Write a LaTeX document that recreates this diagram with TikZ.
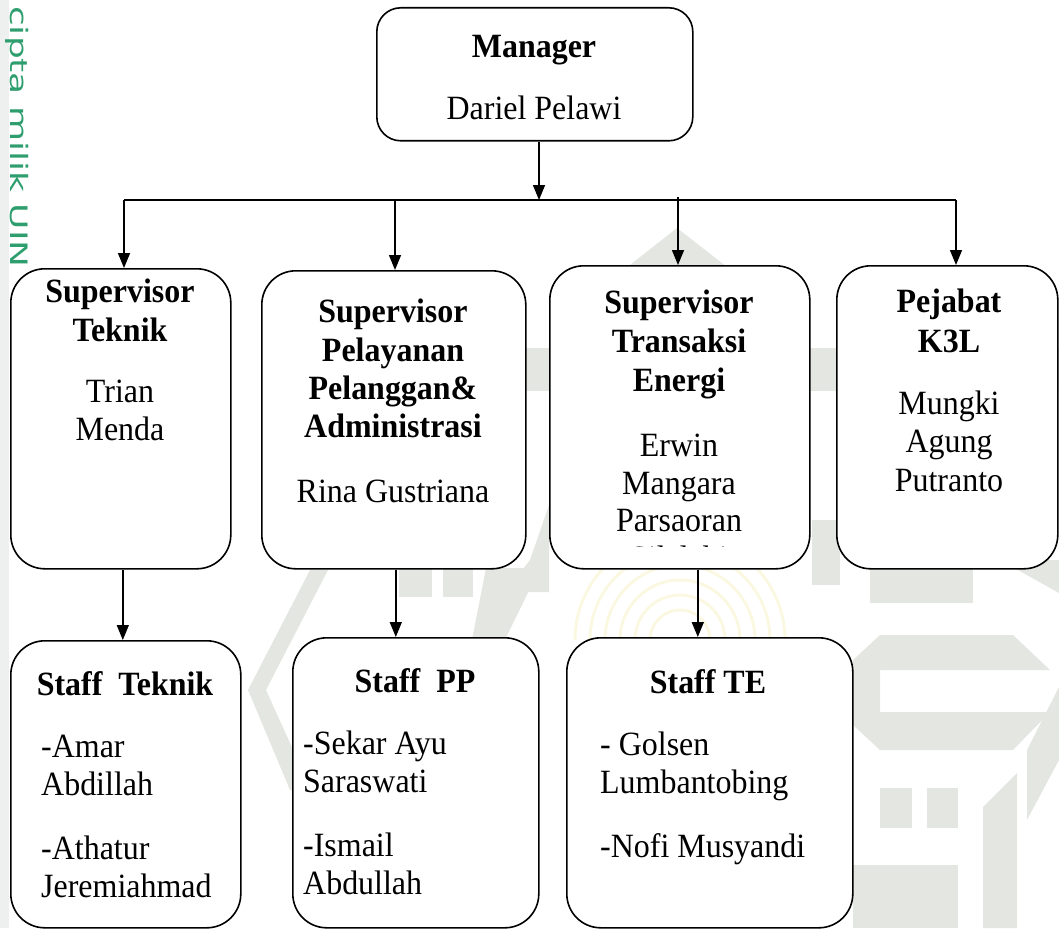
\documentclass[tikz,border=0pt]{standalone}
\usepackage{graphicx}
\usepackage{fontspec}
\setmainfont{Liberation Serif}[FakeStretch=0.94]
\newfontfamily\wmfont{DejaVu Sans}
\usetikzlibrary{arrows.meta}
\definecolor{wm}{HTML}{E4E6E1}
\definecolor{strip}{HTML}{EEF0F0}
\definecolor{wmgreen}{HTML}{2E9E6E}
\definecolor{wmyellow}{HTML}{FBF8E2}
\begin{document}
\begin{tikzpicture}[x=1pt,y=-1pt,
  every node/.style={inner sep=0pt},
  box/.style={draw, line width=1.6pt, rounded corners=34pt, fill=white, anchor=north west},
  arr/.style={line width=1.5pt, -{Triangle[length=15pt,width=12pt]}},
  bus/.style={line width=1.5pt},
  hd/.style={font=\bfseries\fontsize{34}{38}\selectfont, anchor=base},
  nm/.style={font=\fontsize{34}{38}\selectfont, anchor=base},
  nml/.style={font=\fontsize{34}{38}\selectfont, anchor=base west}]
\useasboundingbox (0,0) rectangle (1059,928);
% ---- watermark ----
\fill[strip] (0,0) rectangle (9,928);
\node[rotate=-90, anchor=base west, text=wmgreen, font=\wmfont\fontsize{24}{24}\selectfont] (wmtext) at (10,6) {\scalebox{1.5}[1]{cipta milik UIN}};
\fill[wm] (677,228) -- (560,320) -- (795,320) -- cycle;
\fill[wm] (515,348) rectangle (1059,391);
\fill[wm] (549,505) -- (549,592) -- (505,592) -- (530,560) -- cycle;
\fill[wm] (812,520) -- (840,520) -- (840,585) -- (812,585) -- cycle;
\fill[wm] (310,570) -- (328,570) -- (266,690) -- (300,765) -- (300,790) -- (290,790) -- (248,690) -- cycle;
\fill[wm] (399,568) rectangle (432,597);
\fill[wm] (443,568) rectangle (473,597);
\fill[wm] (486,568) -- (540,568) -- (500,650) -- (470,650) -- cycle;
\fill[wm] (870,568) rectangle (973,603);
\fill[wm] (1000,560) -- (1059,560) -- (1059,593) -- cycle;
\fill[wm] (880,635) -- (1013,635) -- (1050,670) -- (880,670) -- (880,712) -- (1050,712) -- (1013,750) -- (880,750) -- (853,725) -- (853,660) -- cycle;
\fill[wm] (880,788) rectangle (912,828);
\fill[wm] (927,788) rectangle (958,828);
\fill[wm] (983,807) -- (1017,773) -- (1017,928) -- (983,928) -- cycle;
\fill[wm] (1059,687) -- (1059,760) -- (1027,820) -- (1027,750) -- cycle;
\fill[wm] (853,865) -- (958,865) -- (958,928) -- (853,928) -- cycle;
\foreach \r in {30,45,...,110} {
  \draw[wmyellow, line width=3pt] (680-\r,640) arc[start angle=180, end angle=0, x radius=\r, y radius=-\r];
}
% ---- boxes ----
\node[box, rounded corners=24pt, minimum width=316pt, minimum height=133pt] (mgr) at (376,7) {};
\node[box, minimum width=220pt, minimum height=300pt] (st) at (10,268) {};
\node[box, minimum width=264pt, minimum height=298pt] (sp) at (261,270) {};
\node[box, minimum width=260pt, minimum height=303pt] (sx) at (549,265) {};
\node[box, minimum width=221pt, minimum height=303pt] (sk) at (836,265) {};
\node[box, minimum width=230pt, minimum height=287pt] (ft) at (10,640) {};
\node[box, minimum width=246pt, minimum height=290pt] (fp) at (292,637) {};
\node[box, minimum width=286pt, minimum height=290pt] (fe) at (566,637) {};
% ---- texts ----
\node[hd] (t1) at (534,58) {Manager};
\node[nm] (t2) at (534,120) {Dariel Pelawi};
\node[hd] (a1) at (120,302) {Supervisor};
\node[hd] (a2) at (120,341) {Teknik};
\node[nm] (a3) at (120,402) {Trian};
\node[nm] (a4) at (120,440) {Menda};
\node[hd] (b1t) at (393,322) {Supervisor};
\node[hd] (b2t) at (393,361) {Pelayanan};
\node[hd] (b3t) at (393,399) {Pelanggan\&};
\node[hd] (b4t) at (393,437) {Administrasi};
\node[nm] (b5t) at (393,502) {Rina Gustriana};
\node[hd] (c1) at (679,313) {Supervisor};
\node[hd] (c2) at (679,352) {Transaksi};
\node[hd] (c3) at (679,391) {Energi};
\node[nm] (c4) at (679,456) {Erwin};
\node[nm] (c5) at (679,494) {Mangara};
\node[nm] (c6) at (679,531) {Parsaoran};
\begin{scope}
\clip (549,265) rectangle (809,546);
\node[nm] (c7) at (679,569) {Silalahi};
\end{scope}
\node[hd] (d1) at (949,312) {Pejabat};
\node[hd] (d2) at (949,352) {K3L};
\node[nm] (d3) at (949,414) {Mungki};
\node[nm] (d4) at (949,452) {Agung};
\node[nm] (d5) at (949,491) {Putranto};
\node[hd] (e1) at (125,695) {Staff~~Teknik};
\node[nml] (e2) at (41,757) {-Amar};
\node[nml] (e3) at (41,795) {Abdillah};
\node[nml] (e4) at (41,859) {-Athatur};
\node[nml] (e5) at (41,897) {Jeremiahmad};
\node[hd] (f1) at (415,692) {Staff~~PP};
\node[nml] (f2) at (303,754) {-Sekar Ayu};
\node[nml] (f3) at (303,792) {Saraswati};
\node[nml] (f4) at (303,856) {-Ismail};
\node[nml] (f5) at (303,894) {Abdullah};
\node[hd] (g1) at (708,693) {Staff TE};
\node[nml] (g2) at (600,755) {- Golsen};
\node[nml] (g3) at (600,793) {Lumbantobing};
\node[nml] (g4) at (600,857) {-Nofi Musyandi};
% ---- connectors ----
\coordinate (j) at (539,200);
\coordinate (p1) at (124,200);
\coordinate (p2) at (395,200);
\coordinate (p3) at (678,200);
\coordinate (p4) at (956,200);
\draw[arr] (mgr.south -| j) -- (j);
\draw[bus] (p1) -- (p4);
\draw[arr] (p1) -- (p1 |- st.north);
\draw[arr] (p2) -- (p2 |- sp.north);
\draw[arr] ([yshift=3pt]p3) -- (p3 |- sx.north);
\draw[arr] (p4) -- (p4 |- sk.north);
\draw[arr] ([xshift=2pt]st.south) -- ([xshift=2pt]st.south |- ft.north);
\draw[arr] ([xshift=2pt]sp.south) -- ([xshift=2pt]sp.south |- fp.north);
\draw[arr] ([xshift=18pt]sx.south) -- ([xshift=18pt]sx.south |- fe.north);
\end{tikzpicture}
\end{document}
